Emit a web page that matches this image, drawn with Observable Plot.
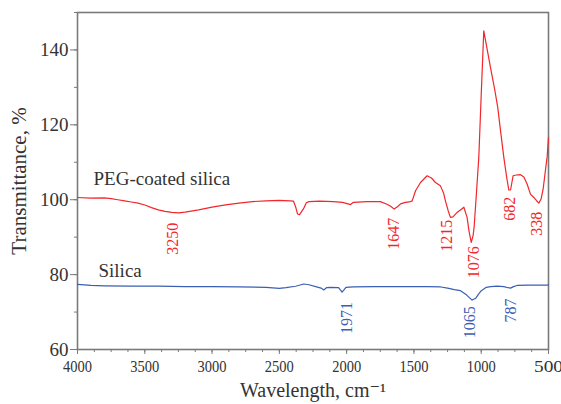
<!DOCTYPE html>
<html>
<head>
<meta charset="utf-8">
<script src="https://cdn.jsdelivr.net/npm/d3@7"></script>
<script src="https://cdn.jsdelivr.net/npm/@observablehq/plot@0.6"></script>
<style>
  html, body { margin: 0; padding: 0; background: #fff; }
  #chart { width: 561px; height: 404px; }
</style>
</head>
<body>
<div id="chart"></div>
<script>
// PEG-coated silica spectrum (wavenumber, transmittance %)
const pegWavenumber = [4000,3900,3800,3750,3700,3650,3600,3550,3500,3450,3400,3350,3300,3250,3200,3100,3000,2900,2800,2700,2600,2500,2420,2395,2380,2365,2350,2335,2320,2300,2280,2200,2100,2030,1990,1971,1950,1850,1750,1700,1670,1647,1620,1600,1563,1525,1513,1488,1451,1402,1370,1340,1303,1280,1266,1245,1229,1210,1179,1150,1129,1105,1090,1074,1060,1053,1035,1018,1000,981,955,931,900,877,855,832,810,795,782,770,763,740,708,683,659,634,609,590,572,555,540,525,510,500];
const pegT = [100.6,100.4,100.5,100.3,100.0,99.7,99.4,99.1,98.6,97.9,97.3,96.9,96.6,96.5,96.7,97.3,98.0,98.6,99.1,99.5,99.7,99.8,99.7,99.6,98.2,96.2,96.0,96.8,97.6,99.2,99.5,99.6,99.5,99.3,98.9,98.7,99.3,99.5,99.5,98.8,98.2,97.5,98.2,98.9,99.3,99.5,99.7,102.4,104.6,106.4,105.8,104.6,103.7,101.8,99.7,97.0,95.3,95.4,96.6,97.4,98.0,95.3,91.5,88.6,90.5,92.6,102.0,111.3,128.0,145.1,140.0,135.3,129.5,124.6,118.0,111.3,105.8,102.6,102.6,105.0,106.4,106.6,106.7,106.1,104.2,101.5,100.6,99.8,99.1,100.2,102.8,107.2,111.5,116.6];

// Silica spectrum
const silWavenumber = [4000,3900,3800,3600,3400,3200,3000,2800,2600,2500,2450,2380,2318,2280,2230,2190,2170,2150,2120,2060,2034,2020,2005,1950,1800,1600,1400,1300,1250,1200,1154,1110,1068,1040,1020,999,962,930,880,832,800,782,760,733,650,509,500];
const silT = [77.4,77.1,77.0,76.9,76.9,76.8,76.8,76.7,76.6,76.3,76.5,76.9,77.5,77.3,76.8,76.4,75.9,76.5,76.6,76.5,75.3,75.9,76.6,76.7,76.8,76.8,76.8,76.7,76.4,76.0,75.7,74.6,73.2,73.7,74.8,75.7,76.6,76.8,76.9,76.8,76.5,76.4,76.8,77.1,77.2,77.2,77.3];

// Peak annotations
const pegPeakLabels = ["3250","1647","1215","1076","682","338"];
const pegPeakX = [3294,1652,1253,1055,788,584];
const pegPeakY = [89.6,90.9,90.4,83.3,97.6,93.6];
const silPeakLabels = ["1971","1065","787"];
const silPeakX = [1996,1085,783];
const silPeakY = [68.4,67.3,70.4];

// Series names
const seriesNames = ["PEG-coated silica","Silica"];
const seriesNameX = [3881,3844];
const seriesNameY = [105.6,81.0];

// Axis ticks
const xTicks = [4000,3500,3000,2500,2000,1500,1000,500];
const xMinor = d3.range(500,4001,125);
const yTicks = [60,80,100,120,140];
const yMinor = d3.range(60,151,10);

const xLabel = "Wavelength, cm\u207B\u00B9";
const yLabel = "Transmittance, %";

const serif = "'Liberation Serif', 'DejaVu Serif', serif";
const redColor = "#f2262b";
const blueColor = "#3a5fb4";
const frameColor = "#7a7a7a";
const textColor = "#333";

const peg = pegWavenumber.map((w,i) => ({w, t: pegT[i]}));
const sil = silWavenumber.map((w,i) => ({w, t: silT[i]}));
const pegPeaks = pegPeakLabels.map((s,i) => ({s, x: pegPeakX[i], y: pegPeakY[i]}));
const silPeaks = silPeakLabels.map((s,i) => ({s, x: silPeakX[i], y: silPeakY[i]}));
const names = seriesNames.map((s,i) => ({s, x: seriesNameX[i], y: seriesNameY[i]}));

const svg = Plot.plot({
  width: 561,
  height: 404,
  marginLeft: 77,
  marginRight: 13,
  marginTop: 12,
  marginBottom: 55,
  style: { fontFamily: serif, background: "#fff", color: textColor },
  x: { domain: [4000, 500] },
  y: { domain: [60, 150] },
  marks: [
    Plot.axisX({ticks: xMinor, tickSize: 3, text: null, stroke: frameColor, label: null}),
    Plot.axisX({ticks: xTicks, tickSize: 5, tickPadding: 5, stroke: frameColor, fill: textColor, fontSize: 17, fontFamily: serif, tickFormat: d => String(d), label: null}),
    Plot.axisY({ticks: yMinor, tickSize: 3, text: null, stroke: frameColor, label: null}),
    Plot.axisY({ticks: yTicks, tickSize: 7, tickPadding: 2, stroke: frameColor, fill: textColor, fontSize: 19, fontFamily: serif, label: null}),
    Plot.frame({stroke: frameColor, strokeWidth: 1.6}),
    Plot.line(peg, {x: "w", y: "t", stroke: redColor, strokeWidth: 1.2}),
    Plot.line(sil, {x: "w", y: "t", stroke: blueColor, strokeWidth: 1.2}),
    Plot.text(pegPeaks, {x: "x", y: "y", text: "s", rotate: -90, fill: redColor, fontSize: 16, fontFamily: serif, textAnchor: "middle", lineAnchor: "middle"}),
    Plot.text(silPeaks, {x: "x", y: "y", text: "s", rotate: -90, fill: blueColor, fontSize: 16, fontFamily: serif, textAnchor: "middle", lineAnchor: "middle"}),
    Plot.text(names, {x: "x", y: "y", text: "s", fill: textColor, fontSize: 19, fontFamily: serif, textAnchor: "start", lineAnchor: "middle"}),
    Plot.text([yLabel], {frameAnchor: "left", dx: -58, rotate: -90, fill: textColor, fontSize: 21, fontFamily: serif, textAnchor: "middle", lineAnchor: "middle"}),
    Plot.text([xLabel], {frameAnchor: "bottom", dy: 41, fill: textColor, fontSize: 20, fontFamily: serif, textAnchor: "middle", lineAnchor: "middle"})
  ]
});

// condense the x tick labels like the reference
d3.select(svg).selectAll('g[aria-label="x-axis tick label"] text')
  .attr("textLength", 29).attr("lengthAdjust", "spacingAndGlyphs");

document.getElementById("chart").appendChild(svg);
</script>
</body>
</html>
